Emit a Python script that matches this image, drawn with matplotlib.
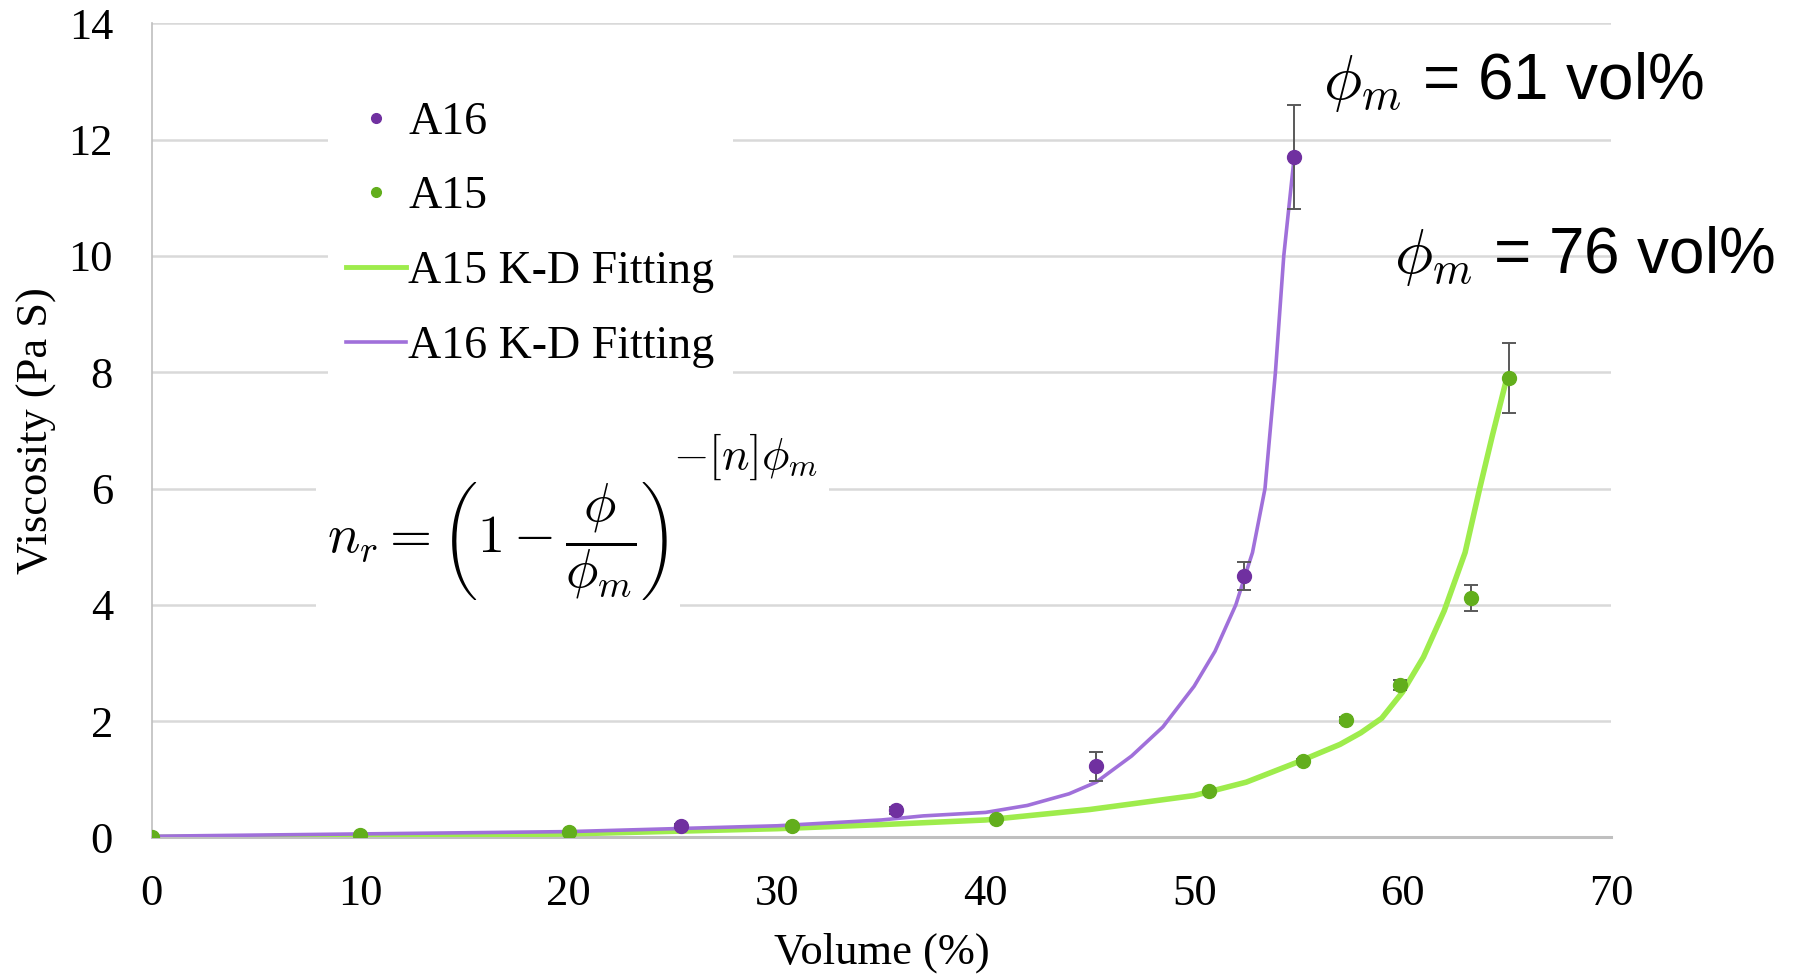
import matplotlib
matplotlib.use("Agg")
import matplotlib.pyplot as plt
from matplotlib.lines import Line2D

plt.rcParams['font.family'] = ['Liberation Serif', 'DejaVu Serif']
plt.rcParams['mathtext.fontset'] = 'cm'

# ---- data ----
a16_x = [25.4, 35.7, 45.3, 52.4, 54.8]
a16_y = [0.2, 0.47, 1.22, 4.5, 11.7]
a16_err = [0.03, 0.06, 0.25, 0.24, 0.9]

a15_x = [0, 10, 20, 30.7, 40.5, 50.7, 55.2, 57.3, 59.9, 63.3, 65.1]
a15_y = [0.0, 0.04, 0.1, 0.2, 0.32, 0.8, 1.32, 2.02, 2.62, 4.12, 7.9]
a15_err = [0.0, 0.0, 0.0, 0.0, 0.0, 0.0, 0.03, 0.05, 0.09, 0.22, 0.6]

fit16_x = [0, 10, 20, 25, 30, 35, 37, 40, 42, 44, 45.3, 47, 48.5, 50, 51, 52, 52.8, 53.4, 53.9, 54.3, 54.8]
fit16_y = [0.02, 0.06, 0.1, 0.15, 0.2, 0.3, 0.37, 0.43, 0.55, 0.75, 0.95, 1.4, 1.9, 2.6, 3.2, 4.0, 4.9, 6.0, 8.0, 10.0, 11.7]

fit15_x = [0, 10, 20, 30, 35, 40, 45, 50, 52.5, 55, 57, 58, 59, 60, 61, 62, 63, 63.7, 64.3, 65]
fit15_y = [0.0, 0.02, 0.06, 0.15, 0.22, 0.3, 0.48, 0.72, 0.95, 1.3, 1.6, 1.8, 2.05, 2.5, 3.1, 3.9, 4.9, 6.0, 6.9, 7.9]

xticks = [0, 10, 20, 30, 40, 50, 60, 70]
yticks = [0, 2, 4, 6, 8, 10, 12, 14]

purple_pt = '#7030A0'
green_pt = '#62AE1C'
purple_ln = '#A070DA'
green_ln = '#9EEC4C'
grid_c = '#D9D9D9'

fig = plt.figure(figsize=(17.98, 9.76), dpi=100)
ax = fig.add_axes([0.0845, 0.142, 0.8115, 0.834])

ax.set_xlim(0, 70)
ax.set_ylim(0, 14)
ax.set_xticks(xticks)
ax.set_yticks(yticks)
ax.tick_params(axis='both', length=0, labelsize=32)
ax.tick_params(axis='y', pad=28)
ax.tick_params(axis='x', pad=26)
for s in ['top', 'right']:
    ax.spines[s].set_visible(False)
ax.spines['left'].set_color('#BFBFBF')
ax.spines['left'].set_linewidth(1.2)
ax.spines['bottom'].set_color('#BFBFBF')
ax.spines['bottom'].set_linewidth(2.2)
ax.yaxis.grid(True, color=grid_c, linewidth=1.8)
ax.set_axisbelow(True)

# fitting curves
ax.plot(fit15_x, fit15_y, color=green_ln, lw=4, zorder=3, solid_capstyle='round')
ax.plot(fit16_x, fit16_y, color=purple_ln, lw=2.6, zorder=4, solid_capstyle='round')

# data with error bars
ax.errorbar(a16_x, a16_y, yerr=a16_err, fmt='o', color=purple_pt, ms=10,
            ecolor='#595959', elinewidth=1.4, capsize=5, capthick=1.4, zorder=5)
ax.errorbar(a15_x, a15_y, yerr=a15_err, fmt='o', color=green_pt, ms=10,
            ecolor='#595959', elinewidth=1.4, capsize=5, capthick=1.4, zorder=5)

ax.set_ylabel('Viscosity (Pa S)', fontsize=32, labelpad=8)
ax.set_xlabel('Volume (%)', fontsize=32, labelpad=14)

handles = [
    Line2D([], [], ls='none', marker='o', color=purple_pt, ms=7),
    Line2D([], [], ls='none', marker='o', color=green_pt, ms=7),
    Line2D([], [], color=green_ln, lw=3.5),
    Line2D([], [], color=purple_ln, lw=2.6),
]
labels = ['A16', 'A15', 'A15 K-D Fitting', 'A16 K-D Fitting']
leg = ax.legend(handles, labels, loc='upper left', bbox_to_anchor=(0.105, 0.955),
                fontsize=33, frameon=True, facecolor='white', edgecolor='none',
                framealpha=1, handlelength=1.3, handletextpad=0.05,
                labelspacing=0.7, borderpad=0.4)
leg.set_zorder(6)

# Krieger-Dougherty equation (main part + larger exponent)
ax.text(24.8, 5.1, r'$n_r = \left(1-\dfrac{\phi}{\phi_m}\right)$',
        fontsize=39, ha='right', va='center', zorder=6,
        bbox=dict(facecolor='white', edgecolor='none', pad=8))
ax.text(25.0, 6.55, r'$-[n]\phi_m$',
        fontsize=33, ha='left', va='center', zorder=6,
        bbox=dict(facecolor='white', edgecolor='none', pad=8))

ax.text(56.2, 13.0, r'$\phi_m$ = 61 vol%', fontsize=46, family=['Liberation Sans', 'DejaVu Sans'],
        ha='left', va='center', clip_on=False, zorder=7)
ax.text(59.6, 10.0, r'$\phi_m$ = 76 vol%', fontsize=46, family=['Liberation Sans', 'DejaVu Sans'],
        ha='left', va='center', clip_on=False, zorder=7)

fig.savefig('out.png', dpi=100)
